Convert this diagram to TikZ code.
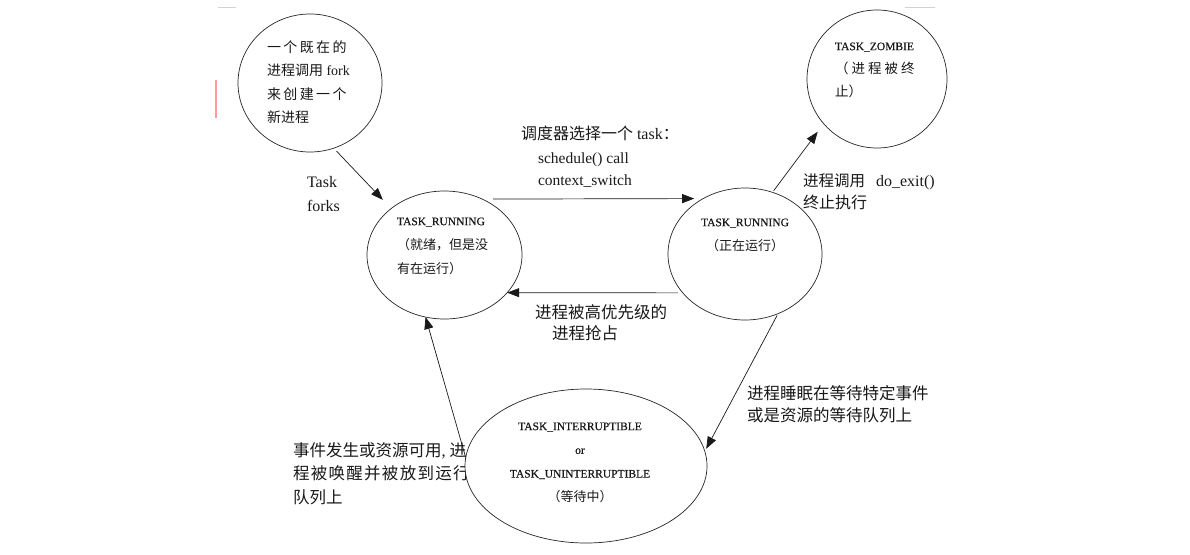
\documentclass[tikz,border=0pt]{standalone}
\usepackage{fontspec}
\setmainfont{Liberation Serif}
\newfontfamily\cjk{Noto Sans CJK SC}
\newfontfamily\smallserif[FakeBold=0.5]{Liberation Serif}
\usetikzlibrary{shapes.geometric,arrows.meta}
\newcommand{\gap}{\hspace{2.4pt}}
\newcommand{\wg}{\hspace{1.3pt}}
\tikzset{
  x=1pt, y=-1pt,
  state/.style={ellipse, draw=black!85, line width=0.7pt, fill=white, inner sep=0pt, outer sep=0pt},
  lbl/.style={inner sep=0pt, outer sep=0pt, anchor=west, align=left, text=black!90},
  intxt/.style={inner sep=0pt, outer sep=0pt, align=left, text=black!90, font=\smallserif\fontsize{11.5}{24}\selectfont},
  arr/.style={-{Triangle[length=12pt,width=9pt]}, line width=0.7pt, draw=black!90},
}
\begin{document}
\begin{tikzpicture}
\fill[white] (0,0) rectangle (1190,554);
\path[use as bounding box] (0,0) rectangle (1190,554);

% faint scan marks
\draw[gray!35, line width=1pt] (218,7) -- (236,7);
\draw[gray!35, line width=1pt] (905,7) -- (935,7);
\draw[red!40, line width=1.5pt] (216,80) -- (216,118);

% ---- edge labels (drawn first, the waiting ellipse covers part of one) ----
\node[lbl, font=\fontsize{16}{24}\selectfont] (lforks) at (307,194) {Task\\forks};
\node[lbl, font=\fontsize{16}{23}\selectfont] (lsched) at (521,133) {{\cjk 调度器选择一个} task{\cjk ：}};
\node[lbl, font=\fontsize{15.5}{22}\selectfont] (lcall) at (538,170) {schedule() call\\context\_switch};
\node[lbl, font=\fontsize{16}{22}\selectfont] (lexit) at (803,192) {{\cjk\fontsize{15.5}{22}\selectfont 进程调用}\hspace{11pt}do\_exit()\\{\cjk 终止执行}};
\node[lbl, font=\cjk\fontsize{16.5}{21}\selectfont] (lpre) at (535,322.5) {进程被高优先级的\\\hspace*{17pt}进程抢占};
\node[lbl, font=\cjk\fontsize{16.5}{22}\selectfont] (lsleep) at (747,404) {进程睡眠在等待特定事件\\或是资源的等待队列上};
\node[lbl, font=\cjk\fontsize{16.5}{23.5}\selectfont] (lwake) at (293,473.5) {事件发生或资源可用{\rmfamily ,}\hspace{4pt}进\\程\wg 被\wg 唤\wg 醒\wg 并\wg 被\wg 放\wg 到\wg 运\wg 行\\队列上};

% ---- states ----
\node[state, minimum width=144pt, minimum height=138pt] (fork) at (310,83) {};
\node[state, minimum width=140pt, minimum height=138pt] (zombie) at (877,79) {};
\node[state, minimum width=155pt, minimum height=128pt] (ready) at (444.5,255) {};
\node[state, minimum width=154pt, minimum height=132pt] (running) at (745,254) {};
\node[state, minimum width=242pt, minimum height=154pt] (waiting) at (586,466) {};

% ---- texts in the states ----
\node[intxt, anchor=west, font=\rmfamily\fontsize{14}{23.5}\selectfont] (forktxt) at (267,82)
  {{\cjk 一\gap 个\gap 既\gap 在\gap 的}\\{\cjk 进程调用} fork\\{\cjk 来\gap 创\gap 建\gap 一\gap 个}\\{\cjk 新进程}};
\node[intxt, anchor=west, font=\smallserif\fontsize{11.5}{23}\selectfont] (zombietxt) at (835,70)
  {TASK\_ZOMBIE\\{\cjk\fontsize{13.5}{23}\selectfont （\hspace{3pt}进\hspace{3pt}程\hspace{3pt}被\hspace{3pt}终}\\{\cjk\fontsize{13.5}{23}\selectfont 止）}};
\node[intxt, anchor=west] (readytxt) at (397,246)
  {TASK\_RUNNING\\{\cjk\fontsize{13}{24}\selectfont （就绪，但是没}\\{\cjk\fontsize{13}{24}\selectfont 有在运行）}};
\node[intxt, align=center] (runningtxt) at (745,235)
  {TASK\_RUNNING\\{\cjk\fontsize{13}{24}\selectfont （正在运行）}};
\node[intxt, align=center, font=\smallserif\fontsize{11.5}{23.7}\selectfont] (waitingtxt) at (580,462.5)
  {TASK\_INTERRUPTIBLE\\or\\TASK\_UNINTERRUPTIBLE\\{\cjk\fontsize{13}{23.7}\selectfont （等待中）}};

% ---- transitions ----
\draw[arr, shorten <=4pt, shorten >=12pt] (fork.-70) -- (ready.139.8);
\draw[arr, shorten <=11pt, shorten >=9pt] (ready.56.2) -- (running.127.8);
\draw[arr, shorten <=5pt] (running.212.2) -- (ready.-31.3);
\draw[arr, shorten <=2pt, shorten >=10pt] (running.66.5) -- (zombie.220.3);
\draw[arr, shorten <=2pt, shorten >=3pt] (running.-61.9) -- (waiting.7);
\draw[arr] (waiting.176.2) -- (ready.253.4);
\end{tikzpicture}
\end{document}
